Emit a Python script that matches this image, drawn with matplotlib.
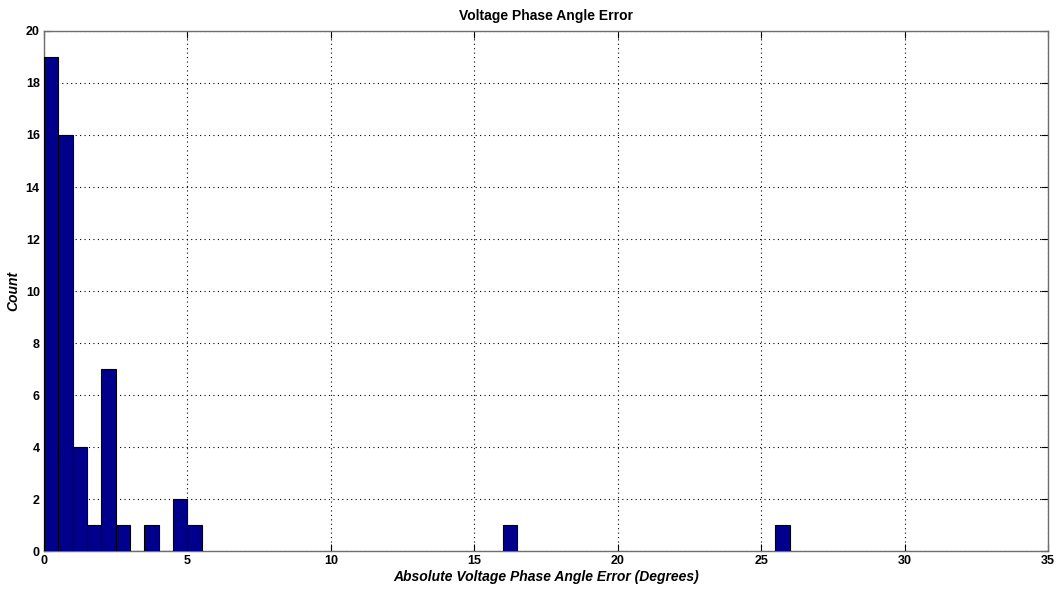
import numpy as np
import matplotlib
matplotlib.use('Agg')
import matplotlib.pyplot as plt

# histogram bins (left edges, width 0.5 deg) and counts
bin_left = [0.0, 0.5, 1.0, 1.5, 2.0, 2.5, 3.0, 3.5, 4.0, 4.5, 5.0, 16.0, 25.5]
counts = [19, 16, 4, 1, 7, 1, 0, 1, 0, 2, 1, 1, 1]
bin_width = 0.5

xticks = [0, 5, 10, 15, 20, 25, 30, 35]
yticks = [0, 2, 4, 6, 8, 10, 12, 14, 16, 18, 20]

plt.rcParams['font.family'] = ['Liberation Sans', 'DejaVu Sans']

fig = plt.figure(figsize=(10.6, 5.9), dpi=100)
ax = fig.add_axes([0.0415, 0.066, 0.9472, 0.8815])

ax.bar(bin_left, counts, width=bin_width, align='edge',
       color='#00008C', edgecolor='black', linewidth=0.8, zorder=3)

ax.set_xlim(0, 35)
ax.set_ylim(0, 20)
ax.set_xticks(xticks)
ax.set_yticks(yticks)
ax.grid(True, linestyle=(0, (1, 3)), color='black', linewidth=0.8, zorder=0)
ax.set_axisbelow(True)
ax.tick_params(direction='in', top=True, right=True, length=5, width=0.8,
               labelsize=9, pad=3)
for lab in ax.get_xticklabels() + ax.get_yticklabels():
    lab.set_fontweight('bold')
for s in ax.spines.values():
    s.set_color('#6e6e6e')
    s.set_linewidth(1.0)

ax.set_title('Voltage Phase Angle Error', fontsize=10, fontweight='bold', pad=8)
ax.set_xlabel('Absolute Voltage Phase Angle Error (Degrees)', fontsize=10,
              fontweight='bold', style='italic', labelpad=2)
ax.set_ylabel('Count', fontsize=10, fontweight='bold', style='italic', labelpad=4)

fig.savefig('out.png', dpi=100)
